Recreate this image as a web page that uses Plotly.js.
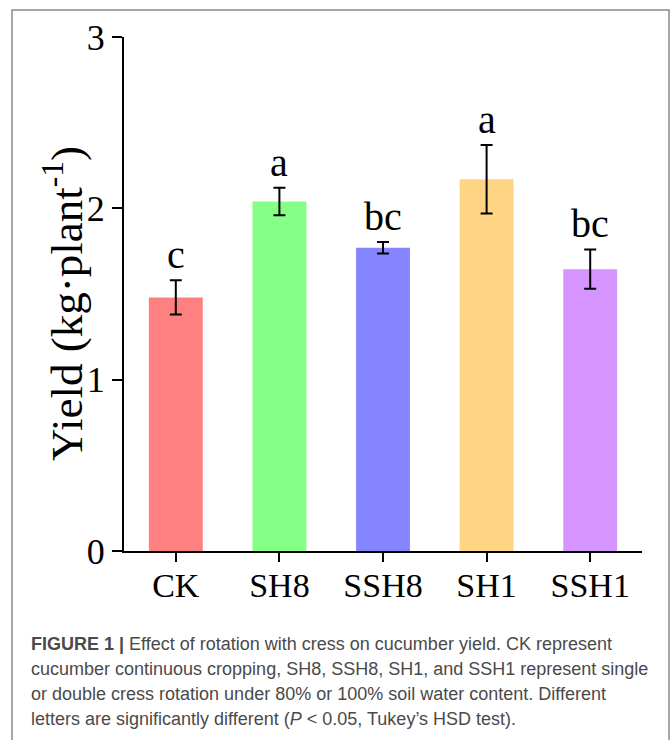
<!DOCTYPE html>
<html>
<head>
<meta charset="utf-8">
<script src="https://cdn.plot.ly/plotly-3.0.1.min.js"></script>
<style>
  html, body { margin: 0; padding: 0; background: #ffffff; }
  #chart { width: 672px; height: 740px; }
</style>
</head>
<body>
<div id="chart"></div>
<script>
// ---- data ----
const categories = ["CK", "SH8", "SSH8", "SH1", "SSH1"];
const yieldMeans = [1.48, 2.04, 1.77, 2.17, 1.645];
const yieldErrors = [0.10, 0.08, 0.033, 0.20, 0.115];
const sigLetters = ["c", "a", "bc", "a", "bc"];
const barColors = ["#FF8080", "#85FF85", "#8585FF", "#FFD585", "#D594FF"];
const yTickValues = [0, 1, 2, 3];
const yTitle = "Yield (kg·plant<sup>-1</sup>)";
const captionLines = [
  "<b>FIGURE 1 |</b> Effect of rotation with cress on cucumber yield. CK represent",
  "cucumber continuous cropping, SH8, SSH8, SH1, and SSH1 represent single",
  "or double cress rotation under 80% or 100% soil water content. Different",
  "letters are significantly different (<i>P</i> < 0.05, Tukey’s HSD test)."
];

// ---- layout helpers (pixel -> paper) ----
const W = 672, H = 740;
const mL = 124, mR = 30, mT = 37, mB = 189;
const pw = W - mL - mR, ph = H - mT - mB;
const px = x => (x - mL) / pw;
const py = y => (H - mB - y) / ph;

const serif = "Liberation Serif, Times New Roman, serif";

const trace = {
  type: "bar",
  x: categories,
  y: yieldMeans,
  width: 0.52,
  marker: { color: barColors, line: { width: 0 } },
  error_y: {
    type: "data",
    array: yieldErrors,
    visible: true,
    color: "#000000",
    thickness: 2,
    width: 6
  },
  hoverinfo: "x+y"
};

const annotations = categories.map((c, i) => ({
  x: c,
  y: yieldMeans[i] + yieldErrors[i],
  xref: "x",
  yref: "y",
  text: sigLetters[i],
  showarrow: false,
  xanchor: "center",
  yanchor: "bottom",
  yshift: 1,
  font: { family: serif, size: 40, color: "#000000" }
}));

// y-axis title
annotations.push({
  x: px(64),
  y: py(304),
  xref: "paper",
  yref: "paper",
  text: yTitle,
  textangle: -90,
  showarrow: false,
  xanchor: "center",
  yanchor: "middle",
  font: { family: serif, size: 45, color: "#000000" }
});

const capBaselines = [650, 675, 700, 725];
captionLines.forEach((t, i) => {
  annotations.push({
    x: px(29),
    y: py(capBaselines[i] - 6),
    xref: "paper",
    yref: "paper",
    text: t,
    showarrow: false,
    xanchor: "left",
    yanchor: "middle",
    align: "left",
    font: { family: "Liberation Sans, Arial, sans-serif", size: 18, color: "#4a4a4a" }
  });
});

const layout = {
  width: W,
  height: H,
  margin: { l: mL, r: mR, t: mT, b: mB },
  paper_bgcolor: "#ffffff",
  plot_bgcolor: "#ffffff",
  showlegend: false,
  xaxis: {
    type: "category",
    range: [-0.5, 4.5],
    showline: true,
    linecolor: "#000000",
    linewidth: 2,
    ticks: "outside",
    ticklen: 9,
    tickwidth: 2,
    tickcolor: "#000000",
    showgrid: false,
    zeroline: false,
    ticklabelstandoff: -6,
    tickfont: { family: serif, size: 34, color: "#000000" },
    fixedrange: true
  },
  yaxis: {
    range: [0, 3],
    tickvals: yTickValues,
    ticktext: yTickValues.map(String),
    showline: true,
    linecolor: "#000000",
    linewidth: 2,
    ticks: "outside",
    ticklen: 10,
    tickwidth: 2,
    tickcolor: "#000000",
    showgrid: false,
    zeroline: false,
    tickfont: { family: serif, size: 36, color: "#000000" },
    automargin: false,
    fixedrange: true
  },
  annotations: annotations,
  shapes: [
    {
      type: "rect",
      xref: "paper", yref: "paper",
      x0: px(12), x1: px(669), y0: py(760), y1: py(10),
      line: { color: "#8a8a8a", width: 1.5 },
      fillcolor: "rgba(0,0,0,0)",
      layer: "below"
    }
  ]
};

Plotly.newPlot("chart", [trace], layout, { displayModeBar: false });
</script>
</body>
</html>
